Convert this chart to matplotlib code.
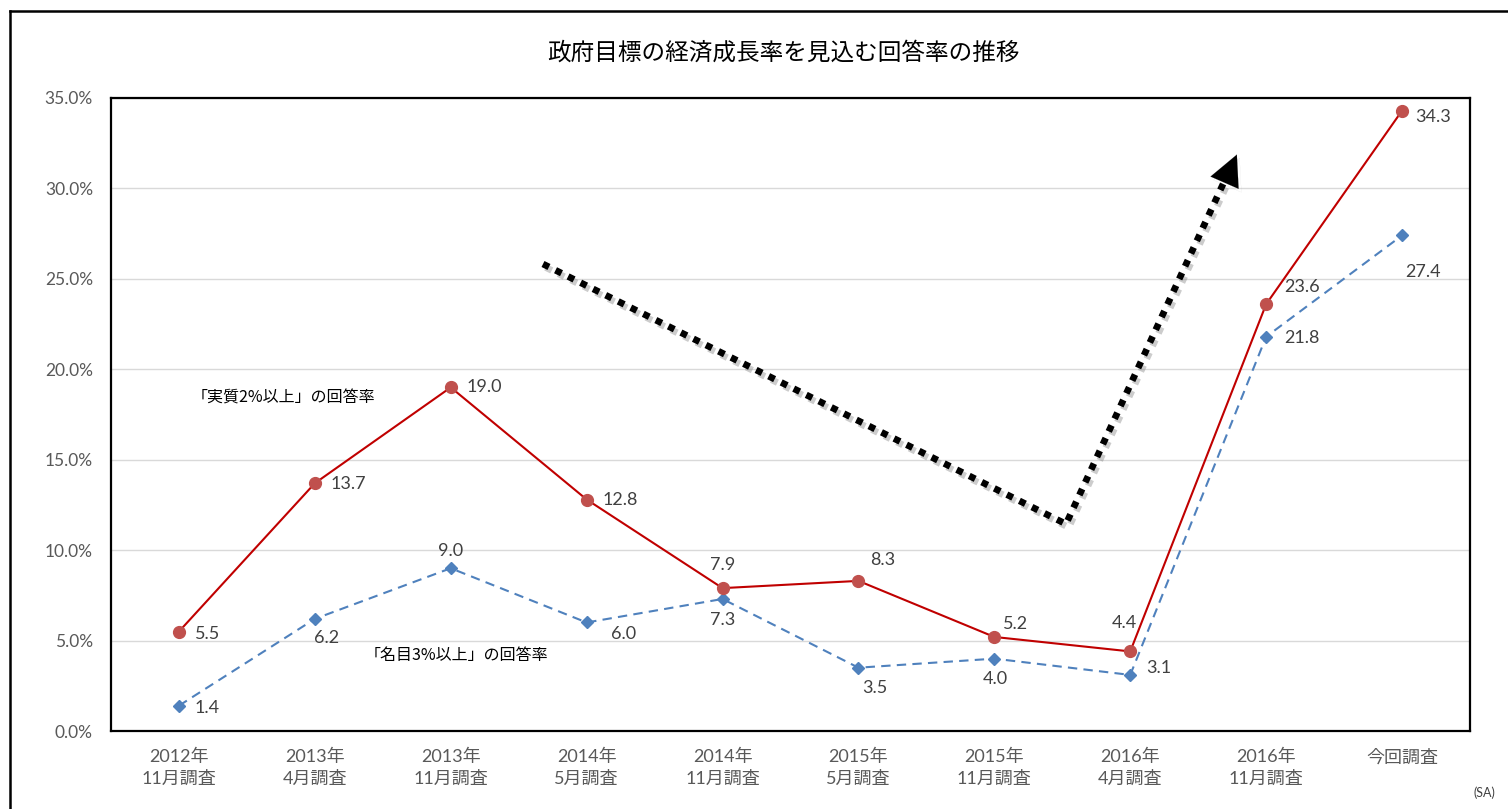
import matplotlib
matplotlib.use("Agg")
import matplotlib.pyplot as plt
import matplotlib.patheffects as pe
from matplotlib.lines import Line2D
import numpy as np

plt.rcParams['font.family'] = ['Lato', 'Noto Sans CJK JP', 'DejaVu Sans']

categories = ["2012年\n11月調査", "2013年\n4月調査", "2013年\n11月調査", "2014年\n5月調査",
              "2014年\n11月調査", "2015年\n5月調査", "2015年\n11月調査", "2016年\n4月調査",
              "2016年\n11月調査", "今回調査"]
real2 = [5.5, 13.7, 19.0, 12.8, 7.9, 8.3, 5.2, 4.4, 23.6, 34.3]
nominal3 = [1.4, 6.2, 9.0, 6.0, 7.3, 3.5, 4.0, 3.1, 21.8, 27.4]
yticks = [0, 5, 10, 15, 20, 25, 30, 35]
title = "政府目標の経済成長率を見込む回答率の推移"
label_real = "「実質2%以上」の回答率"
label_nom = "「名目3%以上」の回答率"

# label offsets in pixels (dx, dy, ha)
real_off = [(16, -2, 'left'), (16, -1, 'left'), (16, 0, 'left'), (16, 0, 'left'),
            (0, 23, 'center'), (24, 21, 'center'), (21, 13, 'center'), (-6, 28, 'center'),
            (18, 17, 'left'), (13, -6, 'left')]
nom_off = [(16, -2, 'left'), (12, -19, 'center'), (0, 17, 'center'), (37, -12, 'center'),
           (0, -21, 'center'), (16, -20, 'center'), (1, -20, 'center'), (16, 7, 'left'),
           (18, -1, 'left'), (21, -37, 'center')]

W, H = 1508, 809
fig = plt.figure(figsize=(W / 100, H / 100), dpi=100)
ax = fig.add_axes([111 / W, 1 - 731 / H, (1470 - 111) / W, (731 - 98) / H])

x = np.arange(len(categories))
ax.set_xlim(-0.5, len(categories) - 0.5)
ax.set_ylim(0, 35)

ax.set_yticks(yticks)
ax.set_yticklabels([f"{v:.1f}%" for v in yticks])
ax.set_xticks(x)
ax.set_xticklabels(categories, linespacing=1.4)
ax.tick_params(axis='both', length=0, colors='#595959', labelsize=12.5)
ax.tick_params(axis='x', labelsize=13)
ax.tick_params(axis='y', pad=13)
ax.tick_params(axis='x', pad=13)
ax.yaxis.grid(True, color='#D9D9D9', linewidth=1)
ax.set_axisbelow(True)
for s in ax.spines.values():
    s.set_color('black')
    s.set_linewidth(1.6)

ax.plot(x, nominal3, color='#4F81BD', linewidth=1.5, dashes=(4.5, 3),
        marker='D', markersize=6.5, markerfacecolor='#4F81BD', markeredgecolor='#4F81BD', zorder=3)
ax.plot(x, real2, color='#C00000', linewidth=1.5,
        marker='o', markersize=8.5, markerfacecolor='#C0504D', markeredgecolor='#C0504D', zorder=4)

for xi, v, (dx, dy, ha) in zip(x, real2, real_off):
    ax.annotate(f"{v:.1f}", (xi, v), xytext=(dx, dy), textcoords='offset pixels',
                ha=ha, va='center', fontsize=13, color='#404040')
for xi, v, (dx, dy, ha) in zip(x, nominal3, nom_off):
    ax.annotate(f"{v:.1f}", (xi, v), xytext=(dx, dy), textcoords='offset pixels',
                ha=ha, va='center', fontsize=13, color='#404040')

ax.text((192 - 111) / 1359, (731 - 398) / 633, label_real, transform=ax.transAxes,
        ha='left', va='center', fontsize=11.5, color='black', family=['Noto Sans CJK JP'])
ax.text((365 - 111) / 1359, (731 - 655) / 633, label_nom, transform=ax.transAxes,
        ha='left', va='center', fontsize=11.5, color='black', family=['Noto Sans CJK JP'])

# decorative dotted arrow
def af(px, py):
    return ((px - 111) / 1359, (731 - py) / 633)

pts = [af(543, 264), af(1066, 524), af(1224, 182)]
xs = [p[0] for p in pts]
ys = [p[1] for p in pts]
shadow = [pe.SimpleLineShadow(offset=(2, -2.5), shadow_color='#808080', alpha=0.4), pe.Normal()]
ln = Line2D(xs, ys, transform=ax.transAxes, color='black', linewidth=4.8,
            dashes=(1, 1.1), dash_capstyle='butt', path_effects=shadow, zorder=5)
ax.add_line(ln)
ax.annotate('', xy=af(1238, 152), xytext=af(1224, 184), xycoords='axes fraction',
            textcoords='axes fraction',
            arrowprops=dict(arrowstyle='-|>,head_length=1.0,head_width=0.5', color='black',
                            linewidth=0.1, mutation_scale=22,
                            path_effects=[pe.SimpleLineShadow(offset=(2, -2.5), shadow_color='#808080', alpha=0.4), pe.Normal()]),
            zorder=6)

fig.text(783 / W, 1 - 53 / H, title, ha='center', va='center', fontsize=17,
         family=['Noto Sans CJK JP'], color='black')
fig.text(1484 / W, 1 - 793 / H, "(SA)", ha='center', va='center', fontsize=9,
         color='#404040')

# outer frame (left & top visible)
fig.add_artist(Line2D([9.5 / W, 9.5 / W], [0, 1 - 11 / H], transform=fig.transFigure,
                      color='black', linewidth=1.8))
fig.add_artist(Line2D([9.5 / W, 1], [1 - 11 / H, 1 - 11 / H], transform=fig.transFigure,
                      color='black', linewidth=1.8))

fig.savefig("out.png", dpi=100)
